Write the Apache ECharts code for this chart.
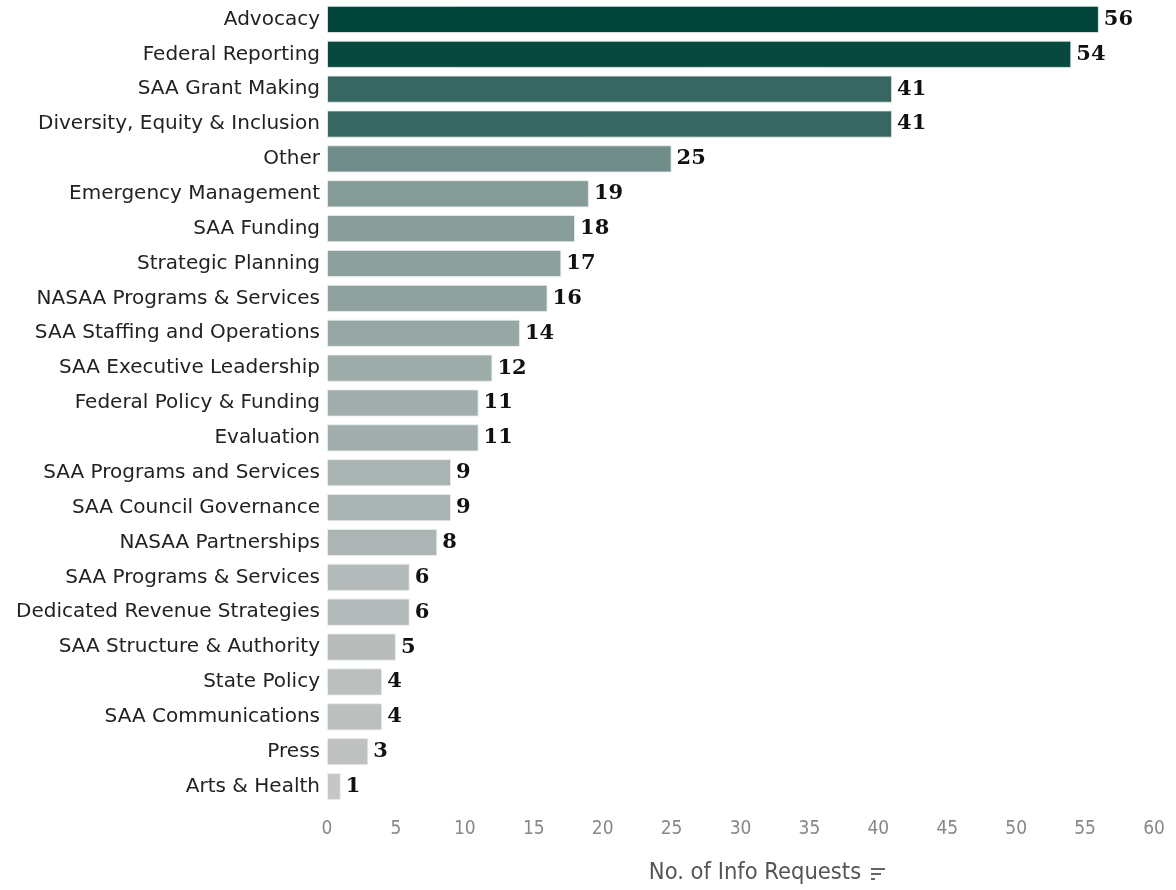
<!DOCTYPE html>
<html>
<head>
<meta charset="utf-8">
<script src="https://cdn.jsdelivr.net/npm/echarts@6/dist/echarts.min.js"></script>
<style>
html,body{margin:0;padding:0;background:#fff;}
#chart{width:1176px;height:890px;}
</style>
</head>
<body>
<div id="chart"></div>
<script>
const categories = [
  "Advocacy","Federal Reporting","SAA Grant Making","Diversity, Equity & Inclusion","Other",
  "Emergency Management","SAA Funding","Strategic Planning","NASAA Programs & Services",
  "SAA Staffing and Operations","SAA Executive Leadership","Federal Policy & Funding","Evaluation",
  "SAA Programs and Services","SAA Council Governance","NASAA Partnerships","SAA Programs & Services",
  "Dedicated Revenue Strategies","SAA Structure & Authority","State Policy","SAA Communications",
  "Press","Arts & Health"
];
const requests = [56,54,41,41,25,19,18,17,16,14,12,11,11,9,9,8,6,6,5,4,4,3,1];
const xTicks = { min: 0, max: 60, interval: 5 };
const axisTitle = "No. of Info Requests";

const chart = echarts.init(document.getElementById('chart'), null, {renderer:'canvas'});
const data = categories.map((c, i) => [requests[i], c]);

chart.setOption({
  animation: false,
  grid: { left: 327, right: 22, top: 2, bottom: 78, containLabel: false },
  visualMap: {
    show: false, type: 'continuous', dimension: 0,
    min: 1, max: 56, seriesIndex: 0,
    inRange: { color: ['#c6c6c6', '#00443a'] }
  },
  xAxis: {
    type: 'value', min: xTicks.min, max: xTicks.max, interval: xTicks.interval,
    splitLine: { show: false }, axisLine: { show: false }, axisTick: { show: false },
    axisLabel: { color: '#888', fontSize: 19, fontFamily: "'DejaVu Sans Condensed', 'Liberation Sans Narrow', 'DejaVu Sans'", margin: 16 },
    name: axisTitle, nameLocation: 'middle', nameGap: 57,
    nameTextStyle: { color: '#555', fontSize: 23.5, fontFamily: "'DejaVu Sans Condensed', 'DejaVu Sans'", padding: [0, 0, 0, 29] }
  },
  yAxis: {
    type: 'category', data: categories, inverse: true,
    axisLine: { show: false }, axisTick: { show: false },
    axisLabel: { color: '#222', fontSize: 20, fontFamily: 'DejaVu Sans', margin: 7 }
  },
  series: [{
    type: 'bar', data: data, encode: { x: 0, y: 1 },
    barCategoryGap: '22%',
    itemStyle: { borderColor: 'rgba(235,240,238,0.8)', borderWidth: 1 },
    label: {
      show: true, position: 'right', distance: 5,
      fontFamily: 'DejaVu Serif', fontWeight: 'bold', fontSize: 21, color: '#111',
      formatter: p => p.value[0]
    }
  }],
  graphic: [{
    type: 'group', left: 871, top: 868,
    children: [
      { type: 'rect', shape: { x: 0, y: 0, width: 14, height: 2 }, style: { fill: '#666' } },
      { type: 'rect', shape: { x: 0, y: 5, width: 10, height: 2 }, style: { fill: '#666' } },
      { type: 'rect', shape: { x: 0, y: 10, width: 4, height: 2 }, style: { fill: '#666' } }
    ]
  }]
});
</script>
</body>
</html>
